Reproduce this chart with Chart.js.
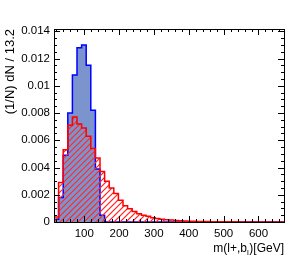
<!DOCTYPE html>
<html>
<head>
<meta charset="utf-8">
<script src="https://cdn.jsdelivr.net/npm/chart.js@4"></script>
<style>
  html, body { margin: 0; padding: 0; background: #ffffff; }
  #c { display: block; }
</style>
</head>
<body>
<canvas id="c" width="305" height="262"></canvas>
<script>
// ---- data ----
const xMin = 13.2;
const binWidth = 13.2;
const nBins = 50;
const blueValues = [
  0.0002, 0.0018, 0.0049, 0.0080, 0.0108, 0.0128, 0.0130, 0.0115, 0.0082, 0.0039,
  0.0005, 0, 0, 0, 0, 0, 0, 0, 0, 0,
  0, 0, 0, 0, 0, 0, 0, 0, 0, 0,
  0, 0, 0, 0, 0, 0, 0, 0, 0, 0,
  0, 0, 0, 0, 0, 0, 0, 0, 0, 0
];
const redValues = [
  0.00037, 0.0029, 0.0053, 0.0071, 0.0077, 0.0072, 0.0069, 0.0063, 0.0054, 0.0047,
  0.0037, 0.0030, 0.0025, 0.0021, 0.0016, 0.0012, 0.00098, 0.00078, 0.00061, 0.00049,
  0.00042, 0.00032, 0.00025, 0.0002, 0.00017, 0.00014, 0.00011, 0.00009, 0.00007, 0.00006,
  0.00005, 0.00004, 0.00003, 0.00003, 0.00002, 0.00002, 0.00001, 0.00001, 0.00001, 0.00001,
  0, 0, 0, 0, 0, 0, 0, 0, 0, 0
];
const xTickValues = [100, 200, 300, 400, 500, 600];
const yTickValues = [0, 0.002, 0.004, 0.006, 0.008, 0.01, 0.012, 0.014];
const yTickLabels = ['0', '0.002', '0.004', '0.006', '0.008', '0.01', '0.012', '0.014'];
const yTitle = '(1/N) dN / 13.2';
const xTitleMain = 'm(l+,b';
const xTitleSub = 'l';
const xTitleEnd = ')[GeV]';

// ---- helpers ----
function histPoints(values) {
  const pts = [{ x: xMin, y: 0 }];
  values.forEach((v, i) => pts.push({ x: xMin + i * binWidth, y: v }));
  pts.push({ x: xMin + values.length * binWidth, y: 0 });
  return pts;
}

const FONT = "'Liberation Sans', Arial, Helvetica, sans-serif";

const hatchPlugin = {
  id: 'hatch',
  afterDatasetDraw(chart, args) {
    if (args.index !== 1) return;
    const meta = chart.getDatasetMeta(0);
    const pts = meta.data;
    if (!pts.length) return;
    const { ctx, chartArea: a } = chart;
    const base = chart.scales.y.getPixelForValue(0);
    ctx.save();
    ctx.beginPath();
    ctx.rect(a.left, a.top, a.right - a.left, a.bottom - a.top);
    ctx.clip();
    ctx.beginPath();
    ctx.moveTo(pts[0].x, base);
    ctx.lineTo(pts[0].x, pts[0].y);
    for (let i = 1; i < pts.length; i++) {
      ctx.lineTo(pts[i].x, pts[i - 1].y);
      ctx.lineTo(pts[i].x, pts[i].y);
    }
    ctx.lineTo(pts[pts.length - 1].x, base);
    ctx.closePath();
    ctx.clip();
    ctx.globalAlpha = 1;
    ctx.globalCompositeOperation = 'source-over';
    ctx.setLineDash([]);
    ctx.strokeStyle = '#ff2a2a';
    ctx.lineWidth = 1.2;
    ctx.beginPath();
    const step = 6;
    const h = a.bottom - a.top;
    for (let x = a.left - h - step; x < a.right + step; x += step) {
      ctx.moveTo(x, a.bottom + 1);
      ctx.lineTo(x + h + 2, a.top - 1);
    }
    ctx.stroke();
    ctx.restore();
  }
};

const framePlugin = {
  id: 'rootFrame',
  afterDatasetsDraw(chart) {
    const { ctx, chartArea: a, scales } = chart;
    const xs = scales.x, ys = scales.y;
    ctx.save();
    ctx.strokeStyle = '#000';
    ctx.lineWidth = 1;
    ctx.beginPath();
    for (let v = 20; v <= xs.max; v += 20) {
      if (v < xs.min) continue;
      const px = Math.round(xs.getPixelForValue(v)) + 0.5;
      const len = (v % 100 === 0) ? 6 : 3;
      ctx.moveTo(px, a.bottom); ctx.lineTo(px, a.bottom - len);
      ctx.moveTo(px, a.top); ctx.lineTo(px, a.top + len);
    }
    for (let k = 0; k * 0.0005 <= ys.max + 1e-9; k++) {
      const v = k * 0.0005;
      const py = Math.round(ys.getPixelForValue(v)) + 0.5;
      const len = (k % 4 === 0) ? 6 : 3;
      ctx.moveTo(a.left, py); ctx.lineTo(a.left + len, py);
      ctx.moveTo(a.right, py); ctx.lineTo(a.right - len, py);
    }
    ctx.stroke();
    ctx.strokeRect(Math.round(a.left) + 0.5, Math.round(a.top) + 0.5,
                   Math.round(a.right - a.left), Math.round(a.bottom - a.top));
    ctx.fillStyle = '#000';
    ctx.textBaseline = 'alphabetic';
    const big = '12px ' + FONT, small = '8px ' + FONT;
    ctx.font = big;
    const w1 = ctx.measureText(xTitleMain).width;
    const w3 = ctx.measureText(xTitleEnd).width;
    ctx.font = small;
    const w2 = ctx.measureText(xTitleSub).width + 0.5;
    const x0 = a.right - (w1 + w2 + w3);
    const yb = 252;
    ctx.font = big; ctx.textAlign = 'left';
    ctx.fillText(xTitleMain, x0, yb);
    ctx.font = small;
    ctx.fillText(xTitleSub, x0 + w1, yb + 3);
    ctx.font = big;
    ctx.fillText(xTitleEnd, x0 + w1 + w2, yb);
    ctx.restore();
  }
};

new Chart(document.getElementById('c'), {
  type: 'line',
  data: {
    datasets: [
      {
        label: 'red',
        data: histPoints(redValues),
        stepped: 'before',
        borderColor: '#ff0000',
        borderWidth: 1.5,
        backgroundColor: 'rgba(255,0,0,0)',
        fill: false,
        pointRadius: 0,
        order: 0
      },
      {
        label: 'blue',
        data: histPoints(blueValues),
        stepped: 'before',
        borderColor: '#0000ff',
        borderWidth: 1.5,
        backgroundColor: 'rgb(123,148,205)',
        fill: 'origin',
        pointRadius: 0,
        order: 1
      }
    ]
  },
  options: {
    responsive: false,
    devicePixelRatio: 1,
    animation: false,
    events: [],
    layout: { padding: { top: 29, right: 21, left: 0, bottom: 0 } },
    plugins: { legend: { display: false }, tooltip: { enabled: false }, title: { display: false } },
    scales: {
      x: {
        type: 'linear',
        min: xMin,
        max: xMin + nBins * binWidth,
        grid: { display: false, drawTicks: false },
        border: { display: false },
        afterBuildTicks: s => { s.ticks = xTickValues.map(v => ({ value: v })); },
        afterFit: s => { s.height = 40; },
        ticks: {
          font: { family: FONT, size: 11.5 },
          color: '#000',
          padding: 5,
          maxRotation: 0,
          callback: v => String(v)
        }
      },
      y: {
        type: 'linear',
        min: 0,
        max: 0.01417,
        grid: { display: false, drawTicks: false },
        border: { display: false },
        afterBuildTicks: s => { s.ticks = yTickValues.map(v => ({ value: v })); },
        afterFit: s => { s.width = 54; },
        ticks: {
          font: { family: FONT, size: 11.5 },
          color: '#000',
          padding: 4,
          callback: (v, i) => yTickLabels[i]
        },
        title: {
          display: true,
          text: yTitle,
          align: 'end',
          color: '#000',
          font: { family: FONT, size: 13 },
          padding: { top: 3, bottom: 0 }
        }
      }
    }
  },
  plugins: [hatchPlugin, framePlugin]
});
</script>
</body>
</html>
